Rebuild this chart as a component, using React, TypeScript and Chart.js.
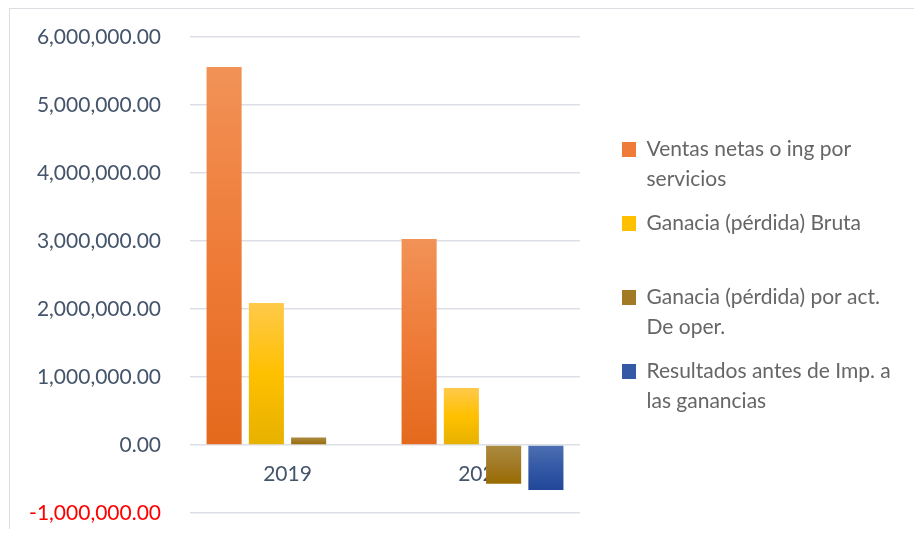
import React, { useEffect, useRef } from 'react';
import { Chart, registerables } from 'chart.js';

Chart.register(...registerables);

const categories = ['2019', '2020'];
const ventasNetas = [5560000, 3030000];
const gananciaBruta = [2090000, 840000];
const gananciaActOper = [110000, -570000];
const resultadosAntesImp = [12000, -660000];

const seriesLabels = [
  'Ventas netas o ing por servicios',
  'Ganacia (pérdida) Bruta',
  'Ganacia (pérdida) por act. De oper.',
  'Resultados antes de Imp. a las ganancias',
];
const legendLines = [
  ['Ventas netas o ing por', 'servicios'],
  ['Ganacia (pérdida) Bruta', ''],
  ['Ganacia (pérdida) por act.', 'De oper.'],
  ['Resultados antes de Imp. a', 'las ganancias'],
];

const yMin = -1000000;
const yMax = 6000000;
const yStep = 1000000;

const gradientStops = [
  ['#F29257', '#EE7B37', '#E4691D'],
  ['#FFC94A', '#FFC000', '#E6B100'],
  ['#AA8B40', '#A27A26', '#996B00'],
  ['#4E6FB2', '#3459A5', '#21479A'],
];

const FONT = 'Lato, "Liberation Sans", sans-serif';
const TEXT = '#44546A';
const LEGEND_WIDTH = 306;

function makeBg(stops: string[]) {
  return (ctx: any) => {
    const chart = ctx.chart;
    const y = chart.scales && chart.scales.y;
    if (ctx.type !== 'data' || !y || !chart.chartArea) return stops[1];
    const p0 = y.getPixelForValue(0);
    const p1 = y.getPixelForValue(ctx.raw);
    const top = Math.min(p0, p1);
    const bottom = Math.max(p0, p1);
    if (bottom - top < 1) return stops[1];
    const g = chart.ctx.createLinearGradient(0, top, 0, bottom);
    g.addColorStop(0, stops[0]);
    g.addColorStop(0.5, stops[1]);
    g.addColorStop(1, stops[2]);
    return g;
  };
}

// lets the built-in legend take the width it needs on the right side
const wideLegend = {
  id: 'wideLegend',
  beforeLayout(chart: any) {
    const lg = chart.legend;
    if (lg && !lg.__wide) {
      const orig = lg.update.bind(lg);
      lg.update = (mw: number, mh: number, margins: any) => {
        orig(LEGEND_WIDTH, mh, margins);
        lg.width = LEGEND_WIDTH;
      };
      lg.__wide = true;
    }
  },
};

export default function App() {
  const ref = useRef<HTMLCanvasElement | null>(null);

  useEffect(() => {
    if (!ref.current) return;
    const seriesData = [ventasNetas, gananciaBruta, gananciaActOper, resultadosAntesImp];
    const chart = new Chart(ref.current, {
      type: 'bar',
      data: {
        labels: categories,
        datasets: seriesData.map((d, i) => ({
          label: seriesLabels[i],
          data: d,
          backgroundColor: makeBg(gradientStops[i]),
          borderWidth: 0,
          barPercentage: 0.83,
          categoryPercentage: 0.867,
        })),
      },
      plugins: [wideLegend],
      options: {
        animation: false,
        responsive: false,
        layout: { padding: { left: 0, top: 28, bottom: 16, right: 0 } },
        plugins: {
          tooltip: { enabled: false },
          legend: {
            position: 'right',
            fullSize: false,
            title: { display: true, text: '', font: { size: 10, lineHeight: 1 }, padding: 0 },
            labels: {
              boxWidth: 14,
              boxHeight: 15,
              padding: 14,
              color: TEXT,
              font: { family: FONT, size: 21, lineHeight: '30px' } as any,
              generateLabels: () =>
                legendLines.map((t, i) => ({
                  text: t as any,
                  fillStyle: gradientStops[i][1],
                  strokeStyle: 'rgba(0,0,0,0)',
                  lineWidth: 0,
                  hidden: false,
                  datasetIndex: i,
                })),
            },
          },
        },
        scales: {
          x: {
            position: { y: 0 } as any,
            grid: { display: false, drawTicks: false },
            border: { display: false },
            ticks: { color: TEXT, font: { family: FONT, size: 21 }, padding: 17 },
          },
          y: {
            min: yMin,
            max: yMax,
            position: 'left',
            grid: {
              color: '#DCE0E6',
              lineWidth: 1.5,
              drawTicks: true,
              tickLength: 29,
              tickColor: 'rgba(0,0,0,0)',
            },
            border: { display: false },
            afterFit: (s: any) => { s.width = 180; },
            ticks: {
              stepSize: yStep,
              padding: 0,
              font: { family: FONT, size: 21 },
              color: (c: any) => (c.tick && c.tick.value < 0 ? '#FF0000' : TEXT),
              callback: (v: any) =>
                Number(v).toLocaleString('en-US', { minimumFractionDigits: 2, maximumFractionDigits: 2 }),
            },
          },
          y2: {
            type: 'linear',
            position: 'right',
            grid: { display: false },
            border: { display: false },
            ticks: { display: false },
            afterFit: (s: any) => { s.width = 28; },
          },
        },
      },
    });
    return () => chart.destroy();
  }, []);

  return (
    <div
      style={{
        marginLeft: 1,
        width: 904,
        height: 520,
        borderLeft: '1px solid #DADDE2',
        borderTop: '1px solid #DADDE2',
      }}
    >
      <canvas ref={ref} width={904} height={520} style={{ display: 'block' }} />
    </div>
  );
}
